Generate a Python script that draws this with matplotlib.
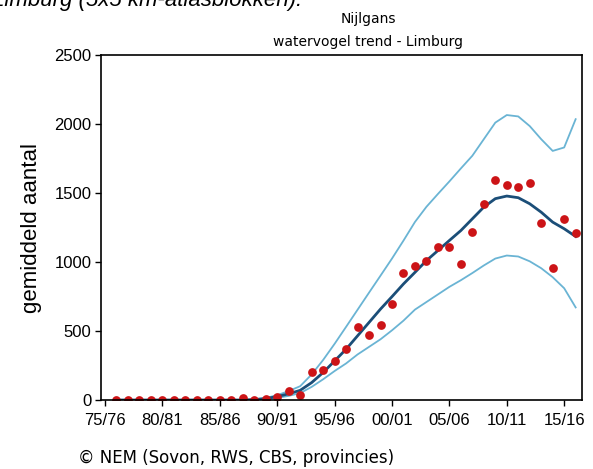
import matplotlib
matplotlib.use('Agg')
import matplotlib.pyplot as plt

# seasons 76/77 .. 16/17, keyed by first year of the season
years = list(range(1976, 2017))

counts = [0, 0, 0, 0, 0, 0, 0, 0, 0, 0, 0, 12, 0, 5, 24, 65, 34, 205, 218, 285,
          370, 530, 470, 545, 695, 921, 974, 1008, 1107, 1107, 983, 1221, 1422,
          1597, 1560, 1543, 1575, 1284, 957, 1310, 1209]

trend = [0, 0, 0, 0, 0, 0, 0, 0, 0, 0, 0, 0, 3, 10, 25, 45, 70, 126, 199, 283,
         368, 465, 562, 659, 749, 841, 925, 1010, 1083, 1156, 1228, 1313, 1398,
         1459, 1478, 1466, 1422, 1361, 1289, 1241, 1185]

upper = [0, 0, 0, 0, 0, 0, 0, 0, 0, 0, 0, 0, 5, 15, 35, 65, 100, 185, 290, 407,
         530, 654, 778, 901, 1025, 1155, 1290, 1400, 1493, 1584, 1678, 1770, 1890,
         2010, 2065, 2055, 1985, 1890, 1805, 1830, 2035]

lower = [0, 0, 0, 0, 0, 0, 0, 0, 0, 0, 0, 0, 2, 5, 15, 30, 50, 95, 150, 210,
         265, 330, 385, 440, 505, 575, 655, 710, 765, 820, 868, 920, 975,
         1025, 1047, 1040, 1005, 955, 890, 810, 671]

tick_years = [1975, 1980, 1985, 1990, 1995, 2000, 2005, 2010, 2015]
tick_labels = ["75/76", "80/81", "85/86", "90/91", "95/96", "00/01", "05/06", "10/11", "15/16"]

fig = plt.figure(figsize=(5.93, 4.69), dpi=100)
ax = fig.add_axes([0.1703, 0.1471, 0.8107, 0.7356])

ax.plot(years, upper, color='#6ab4d4', lw=1.3)
ax.plot(years, lower, color='#6ab4d4', lw=1.3)
ax.plot(years, trend, color='#1b4e78', lw=2.0)
ax.plot(years, counts, 'o', color='#cc1417', ms=6.3, mec='none')

ax.set_xlim(1974.65, 2016.53)
ax.set_ylim(0, 2500)
ax.set_xticks(tick_years)
ax.set_xticklabels(tick_labels)
ax.set_yticks([0, 500, 1000, 1500, 2000, 2500])
ax.tick_params(direction='out', length=4, width=1, labelsize=12)
ax.tick_params(axis='x', pad=5)
ax.tick_params(axis='y', pad=3)
for lbl in ax.get_xticklabels() + ax.get_yticklabels():
    lbl.set_family('Liberation Sans')
for sp in ax.spines.values():
    sp.set_linewidth(1.2)

ax.set_ylabel("gemiddeld aantal", fontsize=16, family='Liberation Sans', labelpad=9)

fig.text(368 / 593, 1 - 19 / 469, "Nijlgans", ha='center', va='center', fontsize=10)
fig.text(368 / 593, 1 - 42 / 469, "watervogel trend - Limburg", ha='center', va='center', fontsize=10)
fig.text(78 / 593, 1 - 458 / 469, "\u00a9 NEM (Sovon, RWS, CBS, provincies)", ha='left', va='center', fontsize=12)
fig.text(-8 / 593, 1 - 6 / 469, "Limburg (5x5 km-atlasblokken).", ha='left', va='baseline',
         fontsize=16, style='italic', family='Liberation Sans')

fig.savefig('out.png', dpi=100)
